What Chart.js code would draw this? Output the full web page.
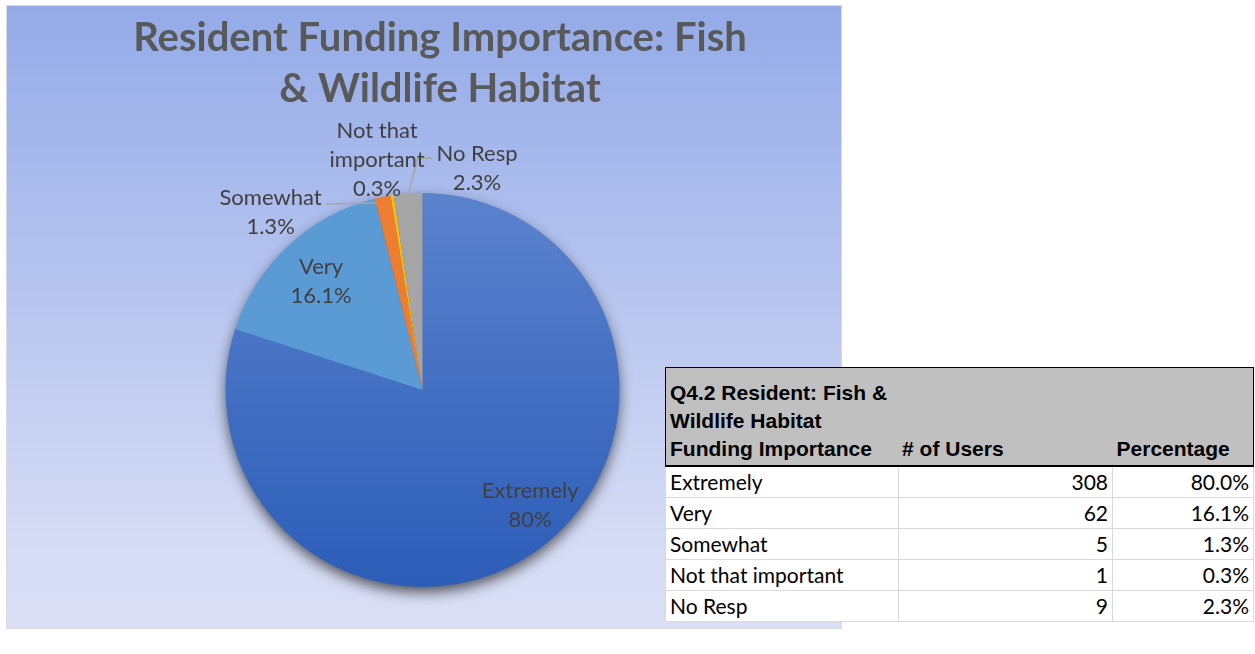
<!DOCTYPE html>
<html>
<head>
<meta charset="utf-8">
<script src="https://cdn.jsdelivr.net/npm/chart.js@4.4.1/dist/chart.umd.min.js"></script>
<style>
  body { margin: 0; background: #fff; width: 1255px; height: 654px; position: relative; overflow: hidden; }
  #panel {
    position: absolute; left: 6px; top: 5px; width: 834px; height: 622px;
    border: 1px solid #d9d9d9;
    background: linear-gradient(to bottom, #94abe8 0%, #b6c4ef 45%, #d4dbf4 85%, #dadff5 100%);
  }
  #pie { position: absolute; left: 0; top: 0; }
  #tbl {
    position: absolute; left: 665px; top: 367px; width: 589px;
    border-collapse: collapse; border: 1px solid #000; background: #fff;
    font-family: Lato, "Liberation Sans", sans-serif; font-size: 21px; color: #000;
  }
  #tbl th {
    background: #c0c0c0; font-family: "Liberation Sans", Arial, sans-serif; font-weight: bold;
    font-size: 21px; text-align: left; vertical-align: bottom; line-height: 28px;
    padding: 11px 4px 2px 4px; border-bottom: 2px solid #000;
  }
  #tbl td { height: 30px; padding: 0 4px; border: 1px solid #d9d9d9; line-height: 28px; }
  #tbl td.num { text-align: right; }
</style>
</head>
<body>
<div id="panel"><canvas id="pie" width="834" height="622"></canvas></div>
<table id="tbl">
  <colgroup><col style="width:233px"><col style="width:215px"><col style="width:141px"></colgroup>
  <thead>
    <tr>
      <th>Q4.2 Resident: Fish &amp;<br>Wildlife Habitat<br>Funding Importance</th>
      <th># of Users</th>
      <th>Percentage</th>
    </tr>
  </thead>
  <tbody id="rows"></tbody>
</table>
<script>
const categories = ["Extremely", "Very", "Somewhat", "Not that important", "No Resp"];
const users = [308, 62, 5, 1, 9];
const titleLines = ["Resident Funding Importance: Fish", "& Wildlife Habitat"];

const total = users.reduce((a, b) => a + b, 0);
const pct = users.map(v => (v / total * 100).toFixed(1));

// table rows
const tbody = document.getElementById("rows");
categories.forEach((c, i) => {
  const tr = document.createElement("tr");
  tr.innerHTML = `<td>${c}</td><td class="num">${users[i]}</td><td class="num">${pct[i]}%</td>`;
  tbody.appendChild(tr);
});

const colors = ["#4472c4", "#5b9bd5", "#ed7d31", "#ffc000", "#a5a5a5"];
const labelFont = "22px Lato, sans-serif";

// where each data label sits: fraction of radius along the mid-angle plus a nudge
const placement = [
  { r: 0.8, dx: 15, dy: -12 },
  { r: 0.755, dx: 0, dy: 0 },
  { r: 1, dx: -112, dy: 15, leader: [[-6, 6], [-56, 7]] },
  { r: 1, dx: -15, dy: -35, wrap: true, leader: [[16, -2], [26, -37], [40, -37]] },
  { r: 1, dx: 69, dy: -25 }
];

const bgPlugin = {
  id: "pieBack",
  beforeDatasetsDraw(chart) {
    const arc = chart.getDatasetMeta(0).data[0];
    if (!arc) return;
    const ctx = chart.ctx;
    ctx.save();
    ctx.shadowColor = "rgba(0,0,0,0.65)";
    ctx.shadowBlur = 14;
    ctx.shadowOffsetY = 6;
    ctx.fillStyle = "#3a68bf";
    ctx.beginPath();
    ctx.arc(arc.x, arc.y, arc.outerRadius - 1, 0, Math.PI * 2);
    ctx.fill();
    ctx.restore();
  }
};

const titlePlugin = {
  id: "twoLineTitle",
  afterDraw(chart) {
    const ctx = chart.ctx;
    ctx.save();
    ctx.font = "bold 40px Lato, sans-serif";
    ctx.fillStyle = "#595959";
    ctx.textAlign = "center";
    ctx.textBaseline = "middle";
    titleLines.forEach((t, i) => ctx.fillText(t, 433, 32 + i * 51));
    ctx.restore();
  }
};

const labelPlugin = {
  id: "sliceLabels",
  afterDatasetsDraw(chart) {
    const ctx = chart.ctx;
    const meta = chart.getDatasetMeta(0);
    ctx.save();
    ctx.font = labelFont;
    ctx.fillStyle = "#404040";
    ctx.textAlign = "center";
    ctx.textBaseline = "middle";
    meta.data.forEach((arc, i) => {
      const p = placement[i];
      const mid = (arc.startAngle + arc.endAngle) / 2;
      const ex = arc.x + Math.cos(mid) * arc.outerRadius * p.r;
      const ey = arc.y + Math.sin(mid) * arc.outerRadius * p.r;
      if (p.leader) {
        ctx.strokeStyle = "#a6a6a6";
        ctx.lineWidth = 1.5;
        ctx.beginPath();
        p.leader.forEach(([lx, ly], k) => {
          if (k === 0) ctx.moveTo(ex + lx, ey + ly); else ctx.lineTo(ex + lx, ey + ly);
        });
        ctx.stroke();
      }
      let lines = [categories[i]];
      if (p.wrap) {
        const w = categories[i].split(" ");
        lines = [w.slice(0, 2).join(" "), w.slice(2).join(" ")];
      }
      const v = parseFloat(pct[i]);
      lines.push((Number.isInteger(v) ? v.toFixed(0) : pct[i]) + "%");
      const lh = 29;
      const top = ey + p.dy - (lines.length - 1) * lh / 2;
      lines.forEach((t, k) => ctx.fillText(t, ex + p.dx, top + k * lh));
    });
    ctx.restore();
  }
};

new Chart(document.getElementById("pie"), {
  type: "pie",
  data: {
    labels: categories,
    datasets: [{
      data: users,
      backgroundColor: (c) => {
        if (c.dataIndex !== 0) return colors[c.dataIndex];
        const area = c.chart.chartArea;
        if (!area) return colors[0];
        const g = c.chart.ctx.createLinearGradient(0, area.top, 0, area.bottom);
        g.addColorStop(0, "#5b82cd");
        g.addColorStop(1, "#2c5db8");
        return g;
      },
      borderWidth: 0
    }]
  },
  options: {
    responsive: false,
    animation: false,
    layout: { padding: { top: 187, bottom: 41, left: 0, right: 3 } },
    plugins: {
      legend: { display: false },
      title: { display: false },
      tooltip: { enabled: false }
    }
  },
  plugins: [bgPlugin, labelPlugin, titlePlugin]
});
</script>
</body>
</html>
